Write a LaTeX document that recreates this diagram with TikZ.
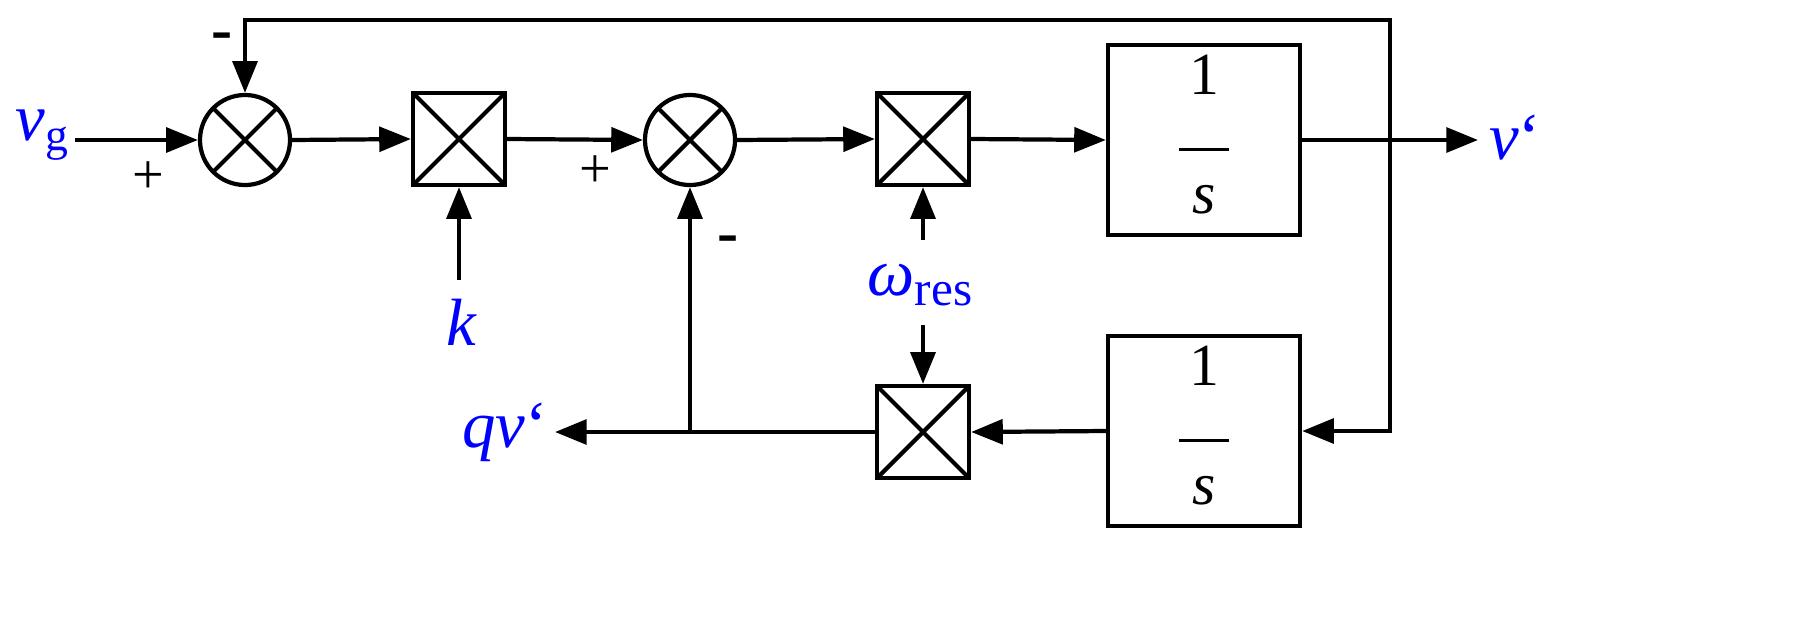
\documentclass[tikz,border=0pt]{standalone}
\usepackage{fontspec}
\setmainfont{Liberation Serif}
\usetikzlibrary{arrows.meta}
\newcommand{\myfrac}{\begin{tabular}{@{}c@{}}1\\[-4pt]\rule{14pt}{0.8pt}\\[-2pt]\textit{s}\end{tabular}}
\begin{document}
\begin{tikzpicture}[x=0.01cm,y=-0.01cm,
  line width=1.2pt,
  arr/.style={-{Triangle[length=9pt,width=7pt]}},
  sum/.style={circle,draw,minimum size=0.9cm,inner sep=0pt,path picture={
     \draw (path picture bounding box.north west)--(path picture bounding box.south east)
           (path picture bounding box.north east)--(path picture bounding box.south west);}},
  mul/.style={rectangle,draw,minimum size=0.92cm,inner sep=0pt,path picture={
     \draw (path picture bounding box.north west)--(path picture bounding box.south east)
           (path picture bounding box.north east)--(path picture bounding box.south west);}},
  blk/.style={rectangle,draw,minimum width=1.92cm,minimum height=1.85cm,inner sep=0pt,font=\fontsize{17}{20}\selectfont},
  lbl/.style={text=blue,font=\fontsize{19}{22}\selectfont,inner sep=1pt},
  sgn/.style={font=\fontsize{16}{19}\selectfont,inner sep=0pt}]
\useasboundingbox (0,0) rectangle (1804,624);
\node[lbl] (vg) at (42,135) {\textit{v}\raisebox{-3pt}{\fontsize{13}{15}\selectfont g}};
\coordinate (vgs) at (75,140);
\node[sum] (s1) at (245,140) {};
\node[mul] (m1) at (459,139) {};
\node[sum] (s2) at (690,140) {};
\node[mul] (m2) at (923,139) {};
\node[blk] (i1) at (1204,140) {\myfrac};
\node[blk,minimum height=1.82cm] (i2) at (1204,431) {\myfrac};
\node[mul] (m3) at (923,432) {};
\node[lbl] (vo) at (1515,138) {\textit{v}\symbol{96}};
\coordinate (vend) at (1478,140);
\node[lbl] (qv) at (505,432) {\textit{qv}\symbol{96}};
\coordinate (qend) at (555,432);
\node[lbl] (k) at (462,322) {\textit{k}};
\coordinate (ks) at (459,280);
\node[lbl] (w) at (920,285) {\textit{ω}\raisebox{-3pt}{\fontsize{14}{16}\selectfont res}};
\coordinate (wu) at (923,240);
\coordinate (wd) at (923,325);
\coordinate (br) at (1390,140);
\coordinate (jn) at (690,432);
\node[sgn] at (148,178) {+};
\node[sgn,font=\fontsize{18}{20}\selectfont\bfseries] at (222,42) {-};
\node[sgn] at (595,172) {+};
\node[sgn,font=\fontsize{18}{20}\selectfont\bfseries] at (728,245) {-};

\draw[arr] (vgs) -- (s1.west);
\draw[arr] (s1.east) -- (m1.west);
\draw[arr] (ks) -- (m1.south);
\draw[arr] (m1.east) -- (s2.west);
\draw[arr] (s2.east) -- (m2.west);
\draw[arr] (wu) -- (m2.south);
\draw[arr] (m2.east) -- (i1.west);
\draw[arr] (i1.east) -- (vend);
\draw[arr] (br) |- (245,20) -- (s1.north);
\draw[arr] (br) |- (i2.east);
\draw[arr] (i2.west) -- (m3.east);
\draw[arr] (wd) -- (m3.north);
\draw[arr] (m3.west) -- (qend);
\draw[arr] (jn) -- (s2.south);
\end{tikzpicture}
\end{document}
